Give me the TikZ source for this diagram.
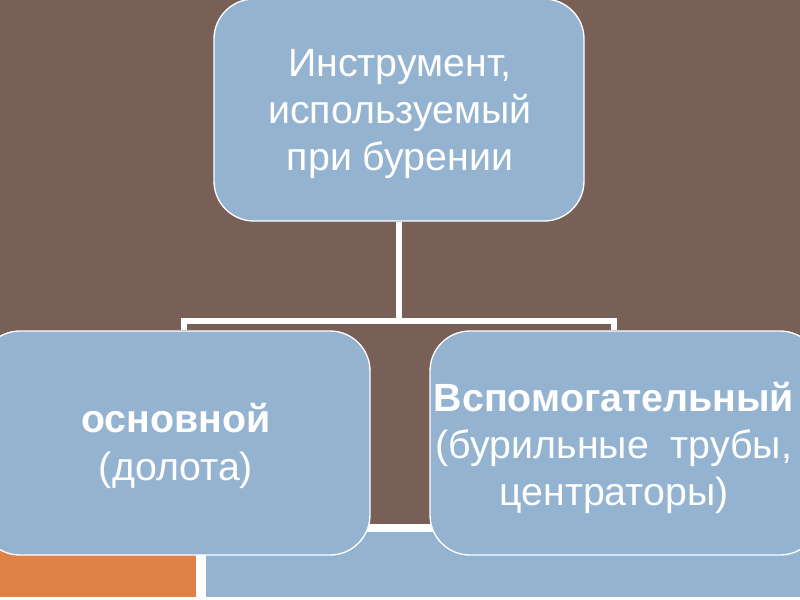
\documentclass[tikz,border=0pt]{standalone}
\usepackage{fontspec}
\setmainfont{Liberation Sans}
\begin{document}
\begin{tikzpicture}[x=0.75pt,y=-0.75pt,
  box/.style={draw=white,line width=1pt,fill=boxblue,rounded corners=30pt,inner sep=0pt},
  conn/.style={draw=white,line width=4pt},
  lbl/.style={text=white,align=center,font=\fontsize{29.5}{35.5}\selectfont}]
\definecolor{bg}{HTML}{786057}
\definecolor{boxblue}{HTML}{94B3D1}
\definecolor{org}{HTML}{DE8248}
\fill[bg] (0,0) rectangle (800,600);
\useasboundingbox (0,0) rectangle (800,600);
\fill[white] (0,524) rectangle (800,600);
\fill[org] (0,532) rectangle (196,597);
\fill[boxblue] (206,532) rectangle (800,597);
\node[box,minimum width=370pt*0.75,minimum height=222pt*0.75] (top) at (399,110) {};
\node[box,minimum width=390pt*0.75,minimum height=224pt*0.75] (left) at (175,443) {};
\node[box,minimum width=390pt*0.75,minimum height=224pt*0.75] (right) at (625,443) {};
\coordinate (mid) at (399,321);
\coordinate (lj) at (184,321);
\coordinate (rj) at (614,321);
\draw[conn] (top.south) -- (mid);
\draw[conn] (lj|-left.north) -- (lj) -- (rj) -- (rj|-right.north);
\node[lbl] at (400,114) {Инструмент,\\используемый\\при бурении};
\node[lbl] at (176,446) {\textbf{основной}\\(долота)};
\node[lbl] at (614,448) {\textbf{Вспомогательный}\\(бурильные\ \ трубы,\\центраторы)};
\end{tikzpicture}
\end{document}
